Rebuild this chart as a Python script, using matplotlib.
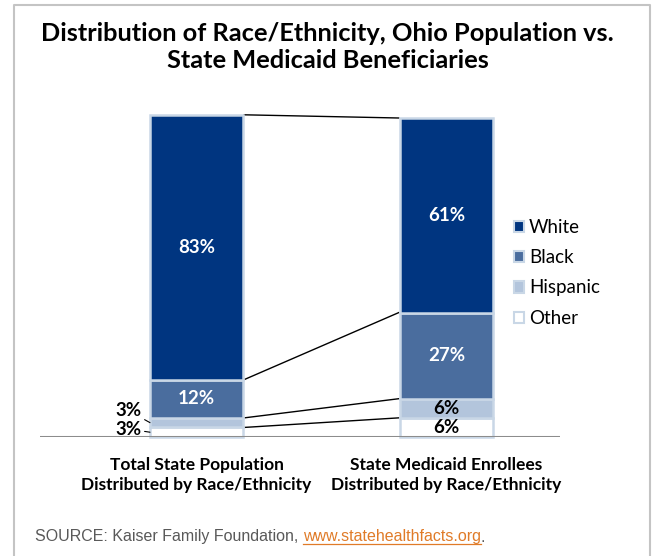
import matplotlib.pyplot as plt
from matplotlib.patches import Rectangle
from matplotlib.lines import Line2D

groups = ['Total State Population\nDistributed by Race/Ethnicity',
          'State Medicaid Enrollees\nDistributed by Race/Ethnicity']
races = ['White', 'Black', 'Hispanic', 'Other']
population = [83, 12, 3, 3]
medicaid = [61, 27, 6, 6]
colors = ['#003580', '#4a6d9e', '#b3c5dc', '#ffffff']
text_colors = ['white', 'white', 'black', 'black']

plt.rcParams['font.family'] = ['Lato', 'DejaVu Sans']

fig = plt.figure(figsize=(6.55, 5.56), dpi=100)
ax = fig.add_axes([40 / 655, 1 - 437 / 556, 520 / 655, 319 / 556])

width = 0.372
edge = '#c9d7e6'

# stack from the bottom: Other, Hispanic, Black, White
order = [3, 2, 1, 0]
tops = []
for xi, vals in enumerate([population, medicaid]):
    bottom = 0
    bounds = [0]
    for i in order:
        ax.bar(xi, vals[i], width, bottom=bottom, color=colors[i],
               edgecolor=edge, linewidth=1.8, clip_on=False, zorder=2)
        mid = bottom + vals[i] / 2
        if not (xi == 0 and vals[i] < 5):
            ax.text(xi, mid, f'{vals[i]}%', ha='center', va='center',
                    color=text_colors[i], fontsize=13.5, fontweight='bold',
                    zorder=3)
        bottom += vals[i]
        bounds.append(bottom)
    tops.append(bounds)

# small labels for the thin left segments
ax.annotate(f'{population[2]}%', xy=(-width / 2, population[3] + population[2] / 2),
            xytext=(-width / 2 - 0.085, 8.2), ha='center', va='center',
            fontsize=13.5, fontweight='bold',
            arrowprops=dict(arrowstyle='-', color='black', lw=0.8,
                            shrinkA=0, shrinkB=0))
ax.annotate(f'{population[3]}%', xy=(-width / 2, population[3] / 2),
            xytext=(-width / 2 - 0.085, 2.5), ha='center', va='center',
            fontsize=13.5, fontweight='bold',
            arrowprops=dict(arrowstyle='-', color='black', lw=0.8,
                            shrinkA=0, shrinkB=0))

# connector lines between matching boundaries
for k in range(1, 5):
    yl = tops[0][k]
    yr = tops[1][k]
    ax.plot([width / 2 + 0.005, 1 - width / 2 - 0.005], [yl, yr],
            color='black', lw=1.0, zorder=1, clip_on=False)

ax.set_xlim(-0.626, 1.454)
ax.set_ylim(0, 100)
ax.axhline(0, color='#8c8c8c', lw=2.2, zorder=4)
for s in ax.spines.values():
    s.set_visible(False)
ax.set_xticks([])
ax.set_yticks([])
ax.patch.set_alpha(0)

for xi, g in enumerate(groups):
    ax.text(xi, -12, g, ha='center', va='center', fontsize=12.5,
            fontweight='bold', linespacing=1.3)

handles = [Rectangle((0, 0), 1, 1, facecolor=colors[i], edgecolor=edge, lw=1.5)
           for i in range(4)]
fig.legend(handles, races, loc='upper left', bbox_to_anchor=(497 / 655, 1 - 202 / 556),
           frameon=False, fontsize=13.5, handlelength=0.55, handleheight=0.55,
           handletextpad=0.25, labelspacing=0.71)

fig.text(0.5, 1 - 41 / 556, 'Distribution of Race/Ethnicity, Ohio Population vs.',
         ha='center', va='baseline', fontsize=18.3, fontweight='bold')
fig.text(0.5, 1 - 68 / 556, 'State Medicaid Beneficiaries',
         ha='center', va='baseline', fontsize=18.3, fontweight='bold')

# frame around the slide
fig.add_artist(Line2D([14 / 655, 14 / 655, 650 / 655, 650 / 655],
                      [0, 1 - 5 / 556, 1 - 5 / 556, 0],
                      transform=fig.transFigure, color='#c4c4c4', lw=1.5))

src = fig.text(35 / 655, 1 - 537 / 556, 'SOURCE: Kaiser Family Foundation, ',
               ha='left', va='center', fontsize=11.5, color='#595959',
               family='Liberation Sans')
fig.canvas.draw()
bb = src.get_window_extent()
x1 = bb.x1 / fig.bbox.width
link = fig.text(x1, 1 - 537 / 556, 'www.statehealthfacts.org', ha='left',
                va='center', fontsize=11.5, color='#e07b28', family='Liberation Sans')
fig.canvas.draw()
lb = link.get_window_extent()
lx0, lx1 = lb.x0 / fig.bbox.width, lb.x1 / fig.bbox.width
uy = (lb.y0 + 1) / fig.bbox.height
fig.add_artist(Line2D([lx0, lx1], [uy, uy], transform=fig.transFigure,
                      color='#e07b28', lw=0.9))
fig.text(lx1, 1 - 537 / 556, '.', ha='left', va='center', fontsize=11.5,
         color='#595959', family='Liberation Sans')

fig.savefig('out.png', dpi=100)
